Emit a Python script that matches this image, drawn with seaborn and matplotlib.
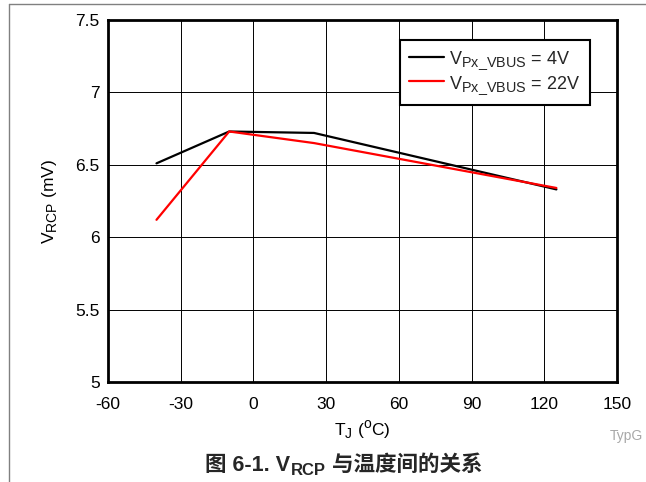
import matplotlib
matplotlib.use("Agg")
import matplotlib.pyplot as plt
import seaborn as sns
import pandas as pd
from matplotlib.lines import Line2D

try:
    import matplotlib._mathtext as _mt
    _mt.SHRINK_FACTOR = 0.8
except Exception:
    pass

temps = [-40, -10, 25, 125]
v_4v = [6.51, 6.73, 6.72, 6.33]
v_22v = [6.12, 6.73, 6.65, 6.34]
series_labels = [r'V$_{\mathregular{Px\_VBUS}}$ = 4V', r'V$_{\mathregular{Px\_VBUS}}$ = 22V']
x_ticks = [-60, -30, 0, 30, 60, 90, 120, 150]
y_ticks = [5, 5.5, 6, 6.5, 7, 7.5]
y_tick_labels = ['5', '5.5', '6', '6.5', '7', '7.5']

sns.set_theme(style="white")
plt.rcParams['font.family'] = ['Liberation Sans', 'Noto Sans CJK SC', 'DejaVu Sans']
plt.rcParams['mathtext.fontset'] = 'custom'
plt.rcParams['mathtext.rm'] = 'Liberation Sans'

df = pd.DataFrame({
    'T': temps * 2,
    'V': v_4v + v_22v,
    'series': [series_labels[0]] * len(temps) + [series_labels[1]] * len(temps),
})

fig = plt.figure(figsize=(6.46, 4.82), dpi=100)
ax = fig.add_axes([0.1672, 0.2075, 0.7879, 0.751])

sns.lineplot(data=df, x='T', y='V', hue='series', palette=['black', '#ff0000'],
             linewidth=1.6, ax=ax, legend=False, sort=False)

ax.set_xlim(-60, 150)
ax.set_ylim(5, 7.5)
ax.set_xticks(x_ticks)
ax.set_xticklabels([str(t) for t in x_ticks])
ax.set_yticks(y_ticks)
ax.set_yticklabels(y_tick_labels)
ax.tick_params(axis='both', length=0, labelsize=12.5, colors='black')
ax.tick_params(axis='x', pad=11)
ax.tick_params(axis='y', pad=6)
ax.grid(True, color='black', linewidth=0.7)
for s in ax.spines.values():
    s.set_color('black')
    s.set_linewidth(2)
    s.set_visible(True)

ax.set_xlabel(r'T$_{\mathregular{J}}$ ($^{\mathregular{o}}$C)', fontsize=12.5, color='black', labelpad=4)
ax.set_ylabel(r'V$_{\mathregular{RCP}}$ (mV)', fontsize=12.5, color='black', labelpad=12)

handles = [Line2D([0], [0], color='black', linewidth=1.6),
           Line2D([0], [0], color='#ff0000', linewidth=1.6)]
leg = ax.legend(handles, series_labels, loc='upper right', bbox_to_anchor=(0.946, 0.945),
                fontsize=13, frameon=True, fancybox=False, framealpha=1,
                borderpad=0.5, handlelength=1.95, handletextpad=0.3, labelspacing=0.15,
                borderaxespad=0)
leg.get_frame().set_edgecolor('black')
leg.get_frame().set_linewidth(1.5)

fig.text(626 / 646, 1 - 436 / 482, 'TypG', fontsize=10, color='#a8a8a8', ha='center', va='center')

# caption built from pieces so CJK glyphs fall back correctly
cap_fam = ['Liberation Sans', 'Noto Sans CJK SC']
t1 = fig.text(205 / 646, 1 - 471 / 482, '图 6-1. V', fontsize=15.5, fontweight='bold',
              ha='left', va='baseline', family=cap_fam)
t2 = fig.text(0, 0, 'RCP', fontsize=12, fontweight='bold', family=cap_fam, va='baseline')
t3 = fig.text(0, 0, ' 与温度间的关系', fontsize=15.5, fontweight='bold', family=cap_fam, va='baseline')

fig.canvas.draw()
r = fig.canvas.get_renderer()
bb1 = t1.get_window_extent(r)
inv = fig.transFigure.inverted()
x2 = inv.transform((bb1.x1 + 0.5, 0))[0]
y_base = t1.get_position()[1]
t2.set_position((x2, y_base - 4 / 482))
bb2 = t2.get_window_extent(r)
x3 = inv.transform((bb2.x1, 0))[0]
t3.set_position((x3, y_base))

# page border lines (left and top)
fig.add_artist(Line2D([8.5 / 646, 8.5 / 646], [0, 1 - 3.5 / 482], color='#808080', linewidth=1,
                      transform=fig.transFigure))
fig.add_artist(Line2D([8.5 / 646, 1], [1 - 3.5 / 482, 1 - 3.5 / 482], color='#808080', linewidth=1,
                      transform=fig.transFigure))

fig.savefig('out.png', dpi=100)
